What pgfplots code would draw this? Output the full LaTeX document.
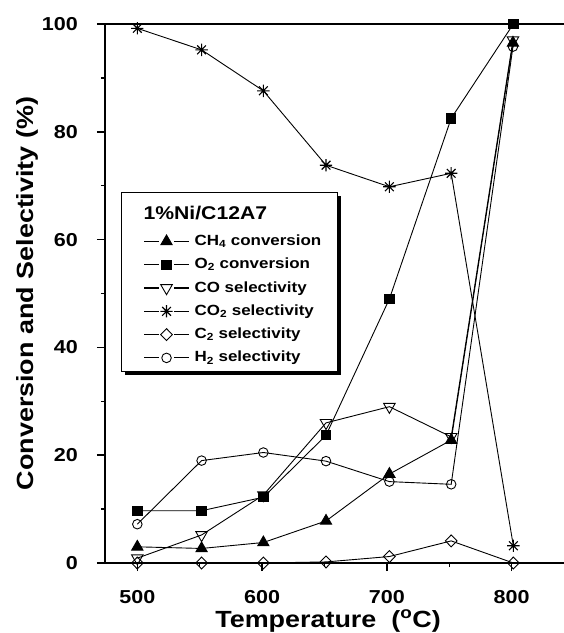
\documentclass[border=0pt]{standalone}
\usepackage{fontspec}
\setmainfont{Liberation Sans}[FakeStretch=1.15]
\usepackage{pgfplots}
\pgfplotsset{compat=1.18}

\pgfdeclareplotmark{ast8}{%
 \pgfpathmoveto{\pgfqpoint{-\pgfplotmarksize}{0pt}}\pgfpathlineto{\pgfqpoint{\pgfplotmarksize}{0pt}}%
 \pgfpathmoveto{\pgfqpoint{0pt}{-\pgfplotmarksize}}\pgfpathlineto{\pgfqpoint{0pt}{\pgfplotmarksize}}%
 \pgfpathmoveto{\pgfqpoint{-0.707\pgfplotmarksize}{-0.707\pgfplotmarksize}}\pgfpathlineto{\pgfqpoint{0.707\pgfplotmarksize}{0.707\pgfplotmarksize}}%
 \pgfpathmoveto{\pgfqpoint{-0.707\pgfplotmarksize}{0.707\pgfplotmarksize}}\pgfpathlineto{\pgfqpoint{0.707\pgfplotmarksize}{-0.707\pgfplotmarksize}}%
 \pgfusepathqstroke}

\begin{document}
\begin{tikzpicture}
\useasboundingbox (-105bp,-70bp) rectangle (459bp,563bp);
% legend frame with shadow
\fill[black] (19.7bp,188.3bp) rectangle (235.7bp,367.3bp);
\draw[fill=white, line width=1bp] (16.7bp,191.3bp) rectangle (232.7bp,370.3bp);
\node[anchor=base west, inner sep=0pt, font=\bfseries\fontsize{18.5}{20}\selectfont] at (38.3bp,343.7bp) {1\%Ni/C12A7};
\begin{axis}[
  scale only axis, width=459bp, height=539bp,
  xmin=474.1, xmax=841.9, ymin=0, ymax=100,
  axis x line*=bottom, axis y line*=left,
  axis line style={-, line width=2bp},
  x axis line style={-}, y axis line style={-},
  xtick={500,600,700,800}, minor xtick={550,650,750},
  ytick={0,20,...,100}, minor ytick={10,30,...,90},
  tick align=outside, major tick length=8bp, minor tick length=4bp,
  every tick/.style={line width=1.5bp, black},
  /pgf/number format/assume math mode=true,
  tick label style={font=\bfseries\fontsize{18.8}{20}\selectfont, inner sep=0pt},
  xticklabel style={anchor=north, yshift=-19bp},
  yticklabel style={anchor=east, xshift=-19bp},
  xlabel={Temperature\ \ (\textsuperscript{o}C)},
  ylabel={Conversion and Selectivity (\%)},
  label style={font=\bfseries\fontsize{23.5}{26}\selectfont},
  xlabel style={at={(axis description cs:0.486,0)}, anchor=base, yshift=-64bp, inner sep=0pt},
  ylabel style={at={(axis description cs:-0.170,0.5)}, anchor=center, inner sep=0pt},
  clip=false,
  every axis plot/.append style={black, line width=0.9bp, mark options={solid, line width=1.1bp}},
  legend image code/.code={%
    \draw[line width=1.1bp] (0bp,0bp) -- (15bp,0bp);
    \draw[line width=1.1bp] (30bp,0bp) -- (45bp,0bp);
    \draw plot coordinates {(22.5bp,0bp)};},
  legend cell align=left,
  legend style={at={(rel axis cs:0.0834,0.610)}, anchor=north west, draw=none, fill=none,
    inner sep=0pt, row sep=9.3bp, column sep=5bp,
    font=\bfseries\fontsize{14.8}{16}\selectfont,
    nodes={inner sep=0pt, text height=11bp, text depth=3bp}},
]
\addplot[mark=triangle*, mark size=6.5, mark options={fill=black}] coordinates
 {(500,3.0)(551.5,2.7)(601,3.8)(651.2,7.8)(702,16.5)(751.5,22.8)(801,96.5)};
\addlegendentry{CH\textsubscript{4} conversion}
\addplot[mark=square*, mark size=4.7, mark options={fill=black}] coordinates
 {(500,9.7)(551.5,9.7)(601,12.2)(651.2,23.7)(702,49.0)(751.5,82.5)(801.3,100)};
\addlegendentry{O\textsubscript{2} conversion}
\addplot[mark=triangle, mark size=6.7, mark options={fill=white, rotate=180}] coordinates
 {(500,0.9)(551.5,5.2)(601,12.6)(651.2,26.0)(702,29.0)(751.5,23.4)(801,97.0)};
\addlegendentry{CO selectivity}
\addplot[mark=ast8, mark size=6.2] coordinates
 {(500,99.2)(551.5,95.2)(601,87.6)(651.2,73.8)(702,69.8)(751.5,72.3)(801.3,3.2)};
\addlegendentry{CO\textsubscript{2} selectivity}
\addplot[mark=diamond, mark size=6, mark options={fill=white, xscale=1.3}] coordinates
 {(500,0)(551.5,0)(601,0)(651.2,0.2)(702,1.2)(751.5,4.1)(801.3,0)};
\addlegendentry{C\textsubscript{2} selectivity}
\addplot[mark=o, mark size=4.8, mark options={fill=white}] coordinates
 {(500,7.2)(551.5,19.0)(601,20.5)(651.2,18.9)(702,15.1)(751.5,14.6)(801,95.8)};
\addlegendentry{H\textsubscript{2} selectivity}
\draw[line width=2bp] (rel axis cs:0,1) -- (rel axis cs:1,1);
\end{axis}
\end{tikzpicture}
\end{document}
